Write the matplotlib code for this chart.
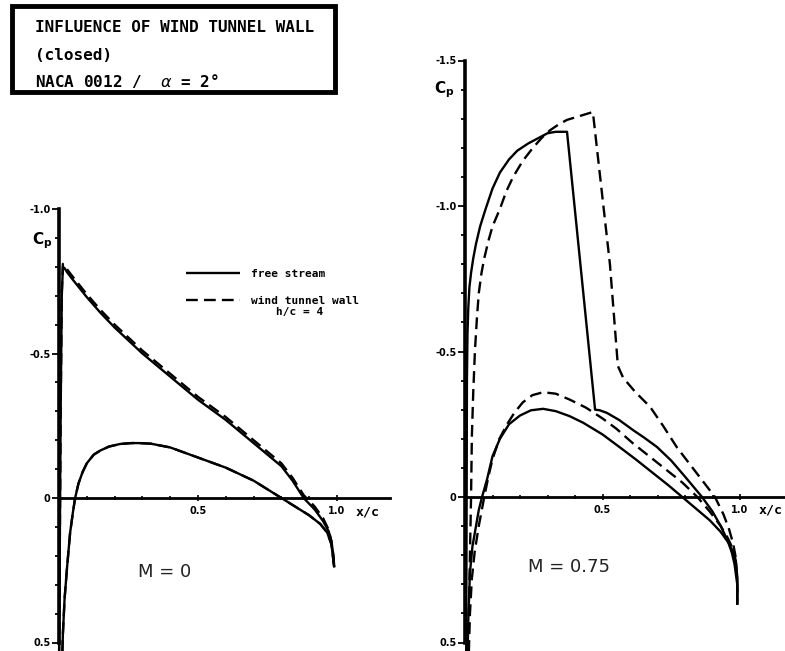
import matplotlib
matplotlib.use("Agg")
import matplotlib.pyplot as plt
from matplotlib.patches import Rectangle
from matplotlib.lines import Line2D
from matplotlib.ticker import MultipleLocator, FixedLocator, FixedFormatter

# M = 0 : x/c and Cp (solid = free stream, dashed = wind tunnel wall)
x_up_m0 = [0.0, 0.006, 0.010, 0.014, 0.02, 0.03, 0.05, 0.075, 0.10, 0.15, 0.20, 0.25, 0.30, 0.35,
           0.40, 0.45, 0.50, 0.55, 0.60, 0.65, 0.70, 0.75, 0.80, 0.84, 0.88, 0.92, 0.95, 0.97,
           0.98, 0.987, 0.99]
cp_up_m0 = [0.60, -0.30, -0.70, -0.80, -0.795, -0.78, -0.755, -0.725, -0.695, -0.64, -0.59,
            -0.545, -0.50, -0.46, -0.42, -0.38, -0.34, -0.305, -0.27, -0.23, -0.19, -0.15,
            -0.11, -0.06, 0.0, 0.04, 0.08, 0.115, 0.15, 0.20, 0.24]
cp_up_m0_wall = [0.60, -0.31, -0.71, -0.81, -0.805, -0.79, -0.765, -0.735, -0.705, -0.65, -0.60,
                 -0.555, -0.51, -0.47, -0.43, -0.39, -0.35, -0.315, -0.28, -0.24, -0.20, -0.16,
                 -0.12, -0.07, -0.01, 0.03, 0.07, 0.11, 0.15, 0.20, 0.24]
x_lo_m0 = [0.010, 0.014, 0.020, 0.029, 0.040, 0.050, 0.058, 0.07, 0.085, 0.10, 0.125, 0.15, 0.18,
           0.22, 0.26, 0.29, 0.33, 0.40, 0.50, 0.60, 0.70, 0.80, 0.85, 0.90, 0.94, 0.965, 0.98,
           0.99]
cp_lo_m0 = [0.60, 0.47, 0.35, 0.24, 0.12, 0.05, 0.0, -0.05, -0.09, -0.12, -0.15, -0.165, -0.178,
            -0.187, -0.19, -0.19, -0.188, -0.175, -0.14, -0.105, -0.06, 0.0, 0.03, 0.06, 0.09,
            0.12, 0.16, 0.24]

# M = 0.75
x_up_fs = [0.004, 0.005, 0.006, 0.007, 0.009, 0.012, 0.016, 0.022, 0.03, 0.04, 0.055, 0.075, 0.10,
           0.127, 0.16, 0.19, 0.23, 0.27, 0.30, 0.33, 0.371, 0.473, 0.49, 0.516, 0.56, 0.611,
           0.65, 0.698, 0.75, 0.80, 0.862, 0.90, 0.93, 0.955, 0.97, 0.98, 0.99, 0.99]
cp_up_fs = [0.60, 0.30, 0.0, -0.40, -0.56, -0.65, -0.72, -0.77, -0.82, -0.87, -0.93, -0.99, -1.06,
            -1.115, -1.16, -1.19, -1.215, -1.235, -1.25, -1.255, -1.255, -0.30, -0.298, -0.289,
            -0.265, -0.23, -0.205, -0.172, -0.125, -0.07, 0.0, 0.05, 0.10, 0.15, 0.19, 0.23,
            0.30, 0.37]
x_up_wt = [0.010, 0.014, 0.018, 0.022, 0.025, 0.030, 0.036, 0.043, 0.05, 0.06, 0.07, 0.085, 0.10,
           0.127, 0.15, 0.175, 0.21, 0.247, 0.28, 0.309, 0.34, 0.371, 0.42, 0.465, 0.527, 0.556,
           0.575, 0.62, 0.673, 0.72, 0.771, 0.84, 0.909, 0.94, 0.96, 0.975, 0.985, 0.99, 0.99]
cp_up_wt = [0.60, 0.40, 0.20, 0.0, -0.21, -0.36, -0.50, -0.61, -0.70, -0.77, -0.82, -0.88, -0.93,
            -0.99, -1.05, -1.10, -1.155, -1.20, -1.235, -1.26, -1.28, -1.296, -1.31, -1.323,
            -0.80, -0.45, -0.41, -0.36, -0.31, -0.245, -0.17, -0.085, 0.0, 0.06, 0.11, 0.16,
            0.21, 0.28, 0.37]
x_lo_fs = [0.008, 0.012, 0.018, 0.027, 0.04, 0.05, 0.062, 0.08, 0.10, 0.127, 0.16, 0.20, 0.24,
           0.284, 0.33, 0.38, 0.43, 0.50, 0.564, 0.62, 0.68, 0.74, 0.79, 0.84, 0.89, 0.93, 0.96,
           0.975, 0.985, 0.99, 0.99]
cp_lo_fs = [0.60, 0.42, 0.26, 0.17, 0.10, 0.045, 0.0, -0.06, -0.14, -0.20, -0.25, -0.28, -0.298,
            -0.303, -0.295, -0.278, -0.255, -0.215, -0.17, -0.13, -0.085, -0.04, 0.0, 0.04, 0.08,
            0.12, 0.16, 0.19, 0.23, 0.28, 0.37]
x_lo_wt = [0.012, 0.018, 0.025, 0.035, 0.05, 0.06, 0.07, 0.085, 0.10, 0.125, 0.153, 0.18, 0.21,
           0.245, 0.284, 0.33, 0.38, 0.44, 0.50, 0.55, 0.61, 0.67, 0.73, 0.79, 0.845, 0.89, 0.93,
           0.955, 0.975, 0.985, 0.99, 0.99]
cp_lo_wt = [0.60, 0.40, 0.28, 0.19, 0.10, 0.05, 0.0, -0.07, -0.13, -0.20, -0.25, -0.29, -0.325,
            -0.35, -0.36, -0.355, -0.335, -0.307, -0.27, -0.235, -0.185, -0.14, -0.095, -0.05,
            0.0, 0.05, 0.10, 0.14, 0.18, 0.22, 0.28, 0.37]

ytick_vals = [-1.5, -1.0, -0.5, 0.0, 0.5]
ytick_txt = ["-1.5", "-1.0", "-0.5", "0", "0.5"]
xtick_vals = [0.5, 1.0]
xtick_txt = ["0.5", "1.0"]

fig = plt.figure(figsize=(7.85, 6.51), dpi=100)
W, H = 785, 651

def make_axes(px_left, px_right, px_top, x0px, xscale, y0px, yscale, ymin_tick, xend):
    ax = fig.add_axes([px_left / W, 0, (px_right - px_left) / W, (H - px_top) / H])
    ax.set_xlim((px_left - x0px) / xscale, (px_right - x0px) / xscale)
    ax.set_ylim((H - y0px) / yscale, -(y0px - px_top) / yscale)
    ax.patch.set_alpha(0)
    for s in ["top", "right"]:
        ax.spines[s].set_visible(False)
    ax.spines["left"].set_position(("data", 0))
    ax.spines["bottom"].set_position(("data", 0))
    ax.spines["left"].set_linewidth(2.6)
    ax.spines["bottom"].set_linewidth(2.0)
    ax.spines["left"].set_bounds(ymin_tick, 0.5)
    ax.spines["bottom"].set_bounds(0, xend)
    yv = [v for v in ytick_vals if v >= ymin_tick]
    ax.yaxis.set_major_locator(FixedLocator(yv))
    ax.yaxis.set_major_formatter(FixedFormatter([t for v, t in zip(ytick_vals, ytick_txt) if v >= ymin_tick]))
    ax.yaxis.set_minor_locator(MultipleLocator(0.1))
    ax.xaxis.set_major_locator(FixedLocator(xtick_vals))
    ax.xaxis.set_major_formatter(FixedFormatter(xtick_txt))
    ax.xaxis.set_minor_locator(FixedLocator([0.1, 0.2, 0.3, 0.4, 0.6, 0.7, 0.8, 0.9]))
    ax.tick_params(axis="y", which="major", direction="out", length=5, width=1.3, pad=1,
                   labelsize=7)
    ax.tick_params(axis="y", which="minor", direction="out", length=3, width=1.3)
    ax.tick_params(axis="x", which="major", direction="inout", length=4, width=1.2, pad=4,
                   labelsize=7)
    ax.tick_params(axis="x", which="minor", direction="inout", length=3, width=1.2)
    for lab in ax.get_xticklabels() + ax.get_yticklabels():
        lab.set_fontweight("bold")
    return ax

solid = dict(color="black", lw=1.7, solid_capstyle="butt", solid_joinstyle="round")
dashed = dict(color="black", lw=1.7, linestyle=(0, (5, 2.6)))

# left: M = 0
ax1 = make_axes(20, 395, 200, 59, 278, 498, 289, -1.0, 1.19)
ax1.plot(x_up_m0, cp_up_m0, **solid)
ax1.plot(x_up_m0, cp_up_m0_wall, **dashed)
ax1.plot(x_lo_m0, cp_lo_m0, **solid)
ax1.plot(x_lo_m0, cp_lo_m0, **dashed)
ax1.text(0.38, 0.255, "M = 0", fontsize=13, ha="center", va="center", color="#222222")
ax1.text(-0.062, -0.89, r"$\mathbf{C_p}$", fontsize=11, ha="center", va="center")
ax1.text(1.11, 0.05, "x/c", fontsize=9.5, fontweight="bold", family="DejaVu Sans Mono",
         ha="center", va="center")

# right: M = 0.75
ax2 = make_axes(420, 785, 50, 465, 275, 497, 291, -1.5, 1.17)
ax2.plot(x_up_fs, cp_up_fs, **solid)
ax2.plot(x_up_wt, cp_up_wt, **dashed)
ax2.plot(x_lo_fs, cp_lo_fs, **solid)
ax2.plot(x_lo_wt, cp_lo_wt, **dashed)
ax2.text(0.38, 0.24, "M = 0.75", fontsize=13, ha="center", va="center", color="#222222")
ax2.text(-0.075, -1.40, r"$\mathbf{C_p}$", fontsize=11, ha="center", va="center")
ax2.text(1.11, 0.045, "x/c", fontsize=9.5, fontweight="bold", family="DejaVu Sans Mono",
         ha="center", va="center")

# legend
handles = [Line2D([], [], **solid), Line2D([], [], **dashed)]
leg_font = dict(family="DejaVu Sans Mono", weight="bold", size=8)
fig.legend(handles, ["free stream", "wind tunnel wall"],
           loc="upper left", bbox_to_anchor=(180 / W, 1 - 263 / H), frameon=False,
           handlelength=4.9, handletextpad=1.0, labelspacing=1.55, borderpad=0,
           prop=leg_font)
fig.text(300 / W, 1 - 312 / H, "h/c = 4", ha="center", va="center", **leg_font)

# title box
fig.patches.append(Rectangle((12 / W, 1 - 92 / H), 323 / W, 86 / H, transform=fig.transFigure,
                             fill=False, lw=3.5, edgecolor="black"))
title_font = dict(family="DejaVu Sans Mono", weight="bold", size=11.5, va="center", ha="left")
fig.text(35 / W, 1 - 28 / H, "INFLUENCE OF WIND TUNNEL WALL", **title_font)
fig.text(35 / W, 1 - 55 / H, "(closed)", **title_font)
fig.text(35 / W, 1 - 81 / H, r"NACA 0012 /  $\alpha$ = 2°", **title_font)

fig.savefig("out.png", dpi=100, facecolor="white")
